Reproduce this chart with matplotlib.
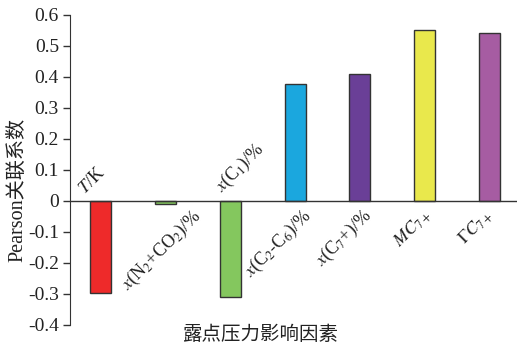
import matplotlib
matplotlib.use("Agg")
import matplotlib.pyplot as plt

# data
factors = ["$T$/K", "$x$(N$_2$+CO$_2$)/%", "$x$(C$_1$)/%", "$x$(C$_2$-C$_6$)/%",
           "$x$(C$_7$+)/%", "$MC_{7+}$", r"$\Gamma C_{7+}$"]
pearson = [-0.298, -0.009, -0.311, 0.377, 0.41, 0.551, 0.543]
colors = ["#ee2a2a", "#84c75e", "#84c75e", "#1ba7de", "#6a3f97", "#e9e84c", "#a65ca2"]

# label placement (x shift in bar units, above/below the zero line)
label_dx = [-0.2, 0.4, -0.07, 0.1, 0.03, -0.04, -0.1]
label_above = [True, False, True, False, False, False, False]

plt.rcParams["font.family"] = ["Liberation Serif", "Noto Sans CJK SC"]
plt.rcParams["mathtext.fontset"] = "stix"
plt.rcParams["axes.unicode_minus"] = False

fig = plt.figure(figsize=(5.19, 3.51), dpi=100)
ax = fig.add_axes([0.1349, 0.0741, 0.9961 - 0.1349, 0.9573 - 0.0741])

x = range(len(pearson))
ax.bar(x, pearson, width=0.324, color=colors, edgecolor="#333333", linewidth=1.0, zorder=3)
ax.axhline(0, color="#333333", linewidth=1.0, zorder=4)

for i, lab in enumerate(factors):
    if label_above[i]:
        ax.text(i + label_dx[i], 0.012, lab, rotation=45, rotation_mode="anchor",
                ha="left", va="bottom", fontsize=13, color="#222222")
    else:
        ax.text(i + label_dx[i], -0.015, lab, rotation=45, rotation_mode="anchor",
                ha="right", va="top", fontsize=13, color="#222222")

ax.set_xlim(-0.47, 6.42)
ax.set_ylim(-0.4, 0.6)
ax.set_yticks([-0.4, -0.3, -0.2, -0.1, 0, 0.1, 0.2, 0.3, 0.4, 0.5, 0.6])
ax.set_yticklabels(["-0.4", "-0.3", "-0.2", "-0.1", "0", "0.1", "0.2", "0.3", "0.4", "0.5", "0.6"])
ax.set_xticks([])
for side in ["top", "right", "bottom"]:
    ax.spines[side].set_visible(False)
ax.spines["left"].set_color("#333333")
ax.tick_params(axis="y", direction="out", length=5, width=1, color="#333333",
               labelsize=14, labelcolor="#222222", pad=3)

ax.set_ylabel("Pearson关联系数", fontsize=14.5, color="#222222")
ax.yaxis.set_label_coords(-0.096, 0.435)
fig.text(0.503, 0.045, "露点压力影响因素", ha="center", va="center",
         fontsize=14, color="#222222")

fig.savefig("out.png", dpi=100)
